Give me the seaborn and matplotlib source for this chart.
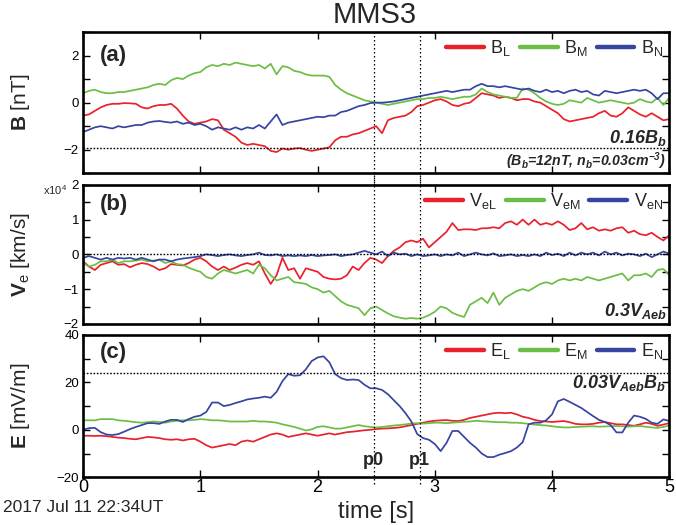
import numpy as np
import pandas as pd
import matplotlib
matplotlib.use("Agg")
import matplotlib.pyplot as plt
from matplotlib.lines import Line2D
from matplotlib.ticker import MultipleLocator
import seaborn as sns

# sample times [s] after 2017 Jul 11 22:34 UT (0.05 s spacing)
time_s = np.round(np.arange(101) * 0.05, 2)

# magnetic field in LMN coordinates [nT]
B_L = [-0.55, -0.5, -0.35, -0.2, -0.1, -0.05, -0.05, -0.02, -0.03, -0.05,
       -0.2, -0.25, -0.15, -0.1, -0.1, -0.05, -0.25, -0.55, -0.8, -0.9,
       -0.85, -0.8, -0.7, -0.75, -1.15, -1.3, -1.45, -1.7, -1.8, -1.75,
       -1.8, -1.85, -2.05, -2.1, -1.95, -2.0, -1.95, -1.93, -2.0, -2.05,
       -2.0, -1.95, -1.9, -1.6, -1.45, -1.45, -1.35, -1.3, -1.2, -1.1,
       -1.0, -1.3, -0.75, -0.65, -0.6, -0.55, -0.4, -0.15, -0.1, 0.0,
       0.1, 0.15, 0.05, -0.1, -0.15, -0.05, 0.0, 0.2, 0.4, 0.35,
       0.3, 0.2, 0.25, 0.2, 0.1, 0.15, 0.15, 0.05, 0.0, -0.15,
       -0.3, -0.45, -0.7, -0.8, -0.75, -0.7, -0.65, -0.6, -0.45, -0.35,
       -0.55, -0.6, -0.45, -0.2, -0.35, -0.5, -0.6, -0.45, -0.6, -0.75,
       -0.7]
B_M = [0.4, 0.5, 0.55, 0.45, 0.4, 0.4, 0.45, 0.45, 0.5, 0.55,
       0.6, 0.65, 0.75, 0.8, 0.75, 0.95, 1.05, 1.0, 1.15, 1.25,
       1.3, 1.5, 1.6, 1.55, 1.65, 1.6, 1.7, 1.65, 1.6, 1.55,
       1.6, 1.45, 1.65, 1.2, 1.55, 1.5, 1.35, 1.3, 1.2, 1.15,
       1.15, 1.15, 1.1, 0.75, 0.55, 0.4, 0.3, 0.2, 0.1, 0.05,
       0.0, -0.05, -0.1, -0.05, 0.0, 0.05, 0.1, 0.15, 0.15, 0.2,
       0.2, 0.25, 0.2, 0.15, 0.2, 0.25, 0.25, 0.35, 0.6, 0.45,
       0.35, 0.3, 0.25, 0.2, 0.2, 0.6, 0.55, 0.4, 0.2, 0.05,
       -0.05, -0.1, -0.05, 0.1, 0.05, 0.0, 0.2, 0.1, 0.0, 0.05,
       0.1, 0.05, 0.0, -0.05, 0.0, 0.15, 0.05, 0.0, 0.2, -0.1,
       0.2]
B_N = [-1.25, -1.15, -1.05, -1.0, -1.05, -1.1, -1.0, -1.05, -1.0, -0.95,
       -0.95, -0.85, -0.8, -0.78, -0.82, -0.85, -0.8, -0.9, -0.85, -0.95,
       -0.9, -1.0, -1.15, -1.05, -1.1, -1.15, -1.05, -1.15, -1.05, -1.1,
       -0.95, -1.1, -0.8, -0.5, -0.95, -0.85, -0.8, -0.75, -0.7, -0.65,
       -0.6, -0.62, -0.55, -0.55, -0.4, -0.35, -0.25, -0.15, -0.1, -0.02,
       0.0, 0.0, 0.02, 0.05, 0.1, 0.15, 0.2, 0.25, 0.3, 0.35,
       0.4, 0.45, 0.5, 0.45, 0.5, 0.55, 0.55, 0.7, 0.8, 0.7,
       0.7, 0.65, 0.7, 0.65, 0.6, 0.55, 0.6, 0.5, 0.45, 0.55,
       0.45, 0.5, 0.4, 0.5, 0.55, 0.45, 0.5, 0.35, 0.3, 0.5,
       0.45, 0.4, 0.45, 0.5, 0.55, 0.5, 0.55, 0.4, 0.15, 0.4,
       0.4]

# electron velocity [x1e4 km/s]
Ve_L = [-0.2, -0.35, -0.45, -0.3, -0.25, -0.2, -0.3, -0.28, -0.37, -0.3,
        -0.25, -0.28, -0.35, -0.45, -0.4, -0.28, -0.3, -0.32, -0.25, -0.15,
        -0.1, -0.2, -0.35, -0.45, -0.35, -0.45, -0.38, -0.3, -0.25, -0.3,
        -0.2, -0.55, -0.85, -0.6, -0.1, -0.45, -0.4, -0.7, -0.4, -0.45,
        -0.5, -0.65, -0.7, -0.72, -0.7, -0.6, -0.35, -0.45, -0.25, -0.1,
        -0.15, -0.25, -0.05, 0.1, 0.2, 0.35, 0.4, 0.35, 0.45, 0.2,
        0.35, 0.5, 0.65, 0.9, 0.7, 0.72, 0.72, 0.7, 0.75, 0.75,
        0.78, 0.75, 0.9, 0.95, 0.85, 1.0, 0.85, 1.0, 0.85, 0.9,
        0.85, 0.95, 0.85, 0.7, 0.75, 0.9, 0.72, 0.78, 0.68, 0.72,
        0.68, 0.75, 0.78, 0.62, 0.68, 0.58, 0.55, 0.62, 0.5, 0.4,
        0.55]
Ve_M = [-0.25, -0.35, -0.3, -0.2, -0.2, -0.15, -0.25, -0.2, -0.2, -0.18,
        -0.15, -0.2, -0.18, -0.15, -0.25, -0.2, -0.28, -0.3, -0.38, -0.45,
        -0.5, -0.65, -0.7, -0.55, -0.45, -0.5, -0.55, -0.5, -0.45, -0.55,
        -0.3, -0.4, -0.6, -0.75, -0.7, -0.65, -0.8, -0.82, -0.85, -0.95,
        -1.0, -1.1, -1.05, -1.2, -1.35, -1.45, -1.5, -1.55, -1.75, -1.55,
        -1.5, -1.6, -1.7, -1.78, -1.82, -1.85, -1.83, -1.85, -1.82, -1.75,
        -1.65, -1.5, -1.55, -1.68, -1.75, -1.8, -1.45, -1.35, -1.25, -1.4,
        -1.1, -1.45, -1.25, -1.15, -1.05, -1.0, -1.05, -0.95, -0.85, -0.8,
        -0.85, -0.75, -0.7, -0.75, -0.7, -0.75, -0.65, -0.7, -0.75, -0.7,
        -0.65, -0.6, -0.55, -0.75, -0.6, -0.6, -0.55, -0.65, -0.45, -0.42,
        -0.6]
Ve_N = [-0.1, -0.05, -0.1, -0.15, -0.1, -0.15, -0.1, -0.12, -0.1, -0.15,
        -0.1, -0.15, -0.2, -0.15, -0.15, -0.2, -0.15, -0.12, -0.1, -0.08,
        -0.05, 0.0, -0.02, -0.05, -0.02, 0.0, -0.03, -0.05, -0.02, 0.0,
        0.05, -0.02, -0.03, 0.0, -0.05, -0.03, -0.05, -0.03, -0.05, -0.02,
        -0.05, -0.03, -0.02, 0.0, -0.05, -0.02, 0.0, 0.05, 0.1, 0.05,
        0.0, 0.08, -0.05, 0.05, 0.0, 0.02, -0.05, 0.0, -0.05, -0.03,
        0.0, -0.05, 0.0, -0.03, 0.05, -0.05, 0.0, 0.05, 0.0, -0.03,
        0.03, -0.05, -0.03, 0.0, -0.05, -0.02, -0.05, 0.0, -0.05, 0.05,
        -0.02, 0.02, -0.05, 0.05, -0.03, 0.05, 0.0, 0.05, -0.03, 0.08,
        0.0, 0.05, -0.03, 0.02, 0.0, -0.05, 0.02, -0.08, 0.0, 0.08,
        0.02]

# electric field [mV/m]
E_L = [-2.5, -2.5, -2.6, -2.5, -2.7, -3.0, -3.3, -3.5, -3.8, -4.0,
       -3.5, -3.0, -3.2, -3.5, -4.0, -4.2, -4.0, -4.5, -4.0, -3.8,
       -5.0, -6.5, -7.5, -7.0, -6.5, -6.0, -6.5, -5.0, -4.5, -5.0,
       -4.0, -3.0, -2.0, -1.5, -2.0, -3.0, -2.5, -2.0, -1.5, -2.0,
       -2.5, -2.0, -1.5, -2.0, -1.5, -1.0, -0.8, -0.5, -0.2, 0.0,
       0.3, 0.5, 0.6, 0.8, 1.0, 1.5, 2.0, 2.5, 3.0, 3.5,
       3.8, 4.0, 4.1, 3.8, 3.7, 4.2, 5.0, 5.5, 6.0, 6.5,
       7.0, 7.2, 7.0, 7.2, 6.5, 5.5, 5.0, 4.2, 3.7, 3.5,
       3.3, 3.5, 3.7, 3.2, 2.5, 2.3, 2.3, 2.5, 3.0, 3.3,
       2.8, 2.3, 2.3, 2.0, 1.7, 2.3, 3.0, 2.5, 1.7, 2.2,
       2.8]
E_M = [4.0, 4.0, 4.0, 4.5, 4.5, 4.5, 4.0, 3.8, 3.5, 3.2,
       3.0, 3.2, 3.5, 3.3, 3.0, 3.5, 3.8, 4.0, 4.0, 4.2,
       4.5, 4.3, 4.0, 4.0, 3.8, 3.5, 3.5, 3.5, 3.5, 3.8,
       3.5, 3.5, 3.3, 3.0, 2.3, 1.8, 1.2, 0.5, -0.3, 0.2,
       1.2, 1.5, 1.0, 0.5, 0.5, 1.0, 1.5, 2.0, 1.5, 1.2,
       1.0, 1.2, 1.5, 1.8, 2.0, 2.3, 2.6, 2.8, 2.6, 2.8,
       3.0, 3.0, 2.8, 3.0, 3.2, 3.4, 3.5, 3.8, 3.6, 3.5,
       3.3, 3.2, 3.2, 3.0, 3.0, 2.8, 2.5, 2.2, 2.0, 1.8,
       1.5, 1.2, 1.0, 1.0, 1.2, 1.3, 1.4, 1.5, 1.3, 1.4,
       1.5, 1.6, 1.5, 1.3, 1.5, 1.6, 1.3, 1.0, 0.8, 1.2,
       1.8]
E_N = [0.0, 0.7, 0.8, -1.0, -2.0, -2.2, -1.8, -0.8, 0.3, 1.2,
       2.0, 2.8, 2.8, 2.5, 3.5, 4.2, 4.2, 3.3, 4.5, 5.5,
       6.0, 7.5, 11.5, 11.5, 10.0, 10.5, 11.3, 12.0, 12.8, 13.2,
       13.5, 14.0, 13.5, 16.0, 20.5, 23.5, 22.8, 23.0, 25.5, 29.0,
       30.5, 31.0, 28.5, 23.5, 21.8, 21.0, 21.2, 21.0, 19.0, 17.5,
       17.5, 16.8, 15.0, 12.5, 10.0, 7.0, 3.5, -1.8, -3.5, -4.2,
       -6.0, -9.0, -5.5, -0.5, -0.5, -3.0, -5.5, -7.5, -10.0, -11.5,
       -11.5, -10.5, -9.8, -9.0, -7.5, -5.2, 2.3, 3.0, 3.0, 4.0,
       6.5, 12.0, 13.0, 11.8, 10.5, 9.2, 7.5, 5.8, 4.2, 3.3,
       2.0, -1.1, -1.1, 3.0, 6.0, 5.5, 4.6, 3.0, 2.5, 4.4,
       3.7]

# normalisation quantities
B_b_nT = 12.0
V_Aeb_1e4kms = 6.67
B_ref = -0.16 * B_b_nT
V_ref = -0.3 * V_Aeb_1e4kms
E_ref = 0.03 * (V_Aeb_1e4kms * 1e7) * (B_b_nT * 1e-9) * 1e3

# marked times
p_times = [2.48, 2.87]
p_names = ["p0", "p1"]

sns.set_theme(style="ticks")
plt.rcParams["font.family"] = ["Liberation Sans", "DejaVu Sans"]
plt.rcParams["mathtext.default"] = "regular"
plt.rcParams["mathtext.fontset"] = "custom"
plt.rcParams["mathtext.bf"] = "Liberation Sans:bold"
plt.rcParams["mathtext.rm"] = "Liberation Sans"
plt.rcParams["mathtext.it"] = "Liberation Sans:italic"

COLORS = ["#e8212b", "#6cbd45", "#3545a0"]

fig = plt.figure(figsize=(6.76, 5.25), dpi=100)
left, width = 0.123, 0.867
ax_a = fig.add_axes([left, 0.670, width, 0.269])
ax_b = fig.add_axes([left, 0.383, width, 0.265])
ax_c = fig.add_axes([left, 0.091, width, 0.271])

panels = [
    (ax_a, [B_L, B_M, B_N], ["B$_L$", "B$_M$", "B$_N$"]),
    (ax_b, [Ve_L, Ve_M, Ve_N], ["V$_{eL}$", "V$_{eM}$", "V$_{eN}$"]),
    (ax_c, [E_L, E_M, E_N], ["E$_L$", "E$_M$", "E$_N$"]),
]
vline_span = {ax_a: (-0.08, 1.0), ax_b: (-0.08, 1.08), ax_c: (-0.05, 1.08)}

for ax, series, labels in panels:
    frame = pd.DataFrame({
        "time": np.tile(time_s, 3),
        "value": np.concatenate([np.asarray(s, float) for s in series]),
        "comp": np.repeat(labels, len(time_s)),
    })
    sns.lineplot(data=frame, x="time", y="value", hue="comp", hue_order=labels,
                 palette=COLORS, linewidth=1.25, legend=False, ax=ax, sort=False)
    handles = [Line2D([], [], color=c, lw=3.2) for c in COLORS]
    ax.legend(handles, labels, loc="upper right", ncol=3, frameon=False,
              fontsize=13, handlelength=2.1, handletextpad=0.35,
              columnspacing=0.5, borderaxespad=0.15, borderpad=0.2)
    ax.set_xlim(0, 5)
    ax.set_xlabel("")
    ax.xaxis.set_major_locator(MultipleLocator(1))
    ax.tick_params(which="both", direction="in", top=True, right=True,
                   length=5, width=1.0, colors="black")
    ax.tick_params(axis="y", labelsize=9.5, pad=3)
    for sp in ax.spines.values():
        sp.set_linewidth(1.9)
        sp.set_color("black")
    lo, hi = vline_span[ax]
    for pt in p_times:
        ax.axvline(pt, color="black", lw=0.9, ls=(0, (1.2, 2.0)),
                   ymin=lo, ymax=hi, clip_on=False)

dot = dict(color="black", lw=1.0, ls=(0, (1.2, 1.2)))

# panel (a)
ax_a.set_ylim(-3, 3)
ax_a.yaxis.set_major_locator(MultipleLocator(2))
ax_a.yaxis.set_minor_locator(MultipleLocator(1))
ax_a.axhline(B_ref, **dot)
ax_a.tick_params(axis="x", labelbottom=False)
ax_a.set_ylabel(r"$\mathbf{B}$ [nT]", fontsize=15)
ax_a.text(0.995, 0.25, "0.16B$_b$", transform=ax_a.transAxes, ha="right",
          va="center", fontsize=13, fontweight="bold", style="italic")
ax_a.text(0.995, 0.085, "(B$_b$=12nT, n$_b$=0.03cm$^{-3}$)", transform=ax_a.transAxes,
          ha="right", va="center", fontsize=10.2, fontweight="bold", style="italic")
ax_a.text(0.028, 0.835, "(a)", transform=ax_a.transAxes, ha="left", va="center",
          fontsize=16, fontweight="bold")

# panel (b)
ax_b.set_ylim(-2, 2)
ax_b.yaxis.set_major_locator(MultipleLocator(1))
ax_b.yaxis.set_minor_locator(MultipleLocator(0.5))
ax_b.axhline(0, **dot)
ax_b.axhline(V_ref, **dot)
ax_b.tick_params(axis="x", labelbottom=False)
ax_b.set_ylabel(r"$\mathbf{V}_e$ [km/s]", fontsize=15)
ax_b.text(0.995, 0.09, "0.3V$_{Aeb}$", transform=ax_b.transAxes, ha="right",
          va="center", fontsize=13, fontweight="bold", style="italic")
ax_b.text(0.028, 0.855, "(b)", transform=ax_b.transAxes, ha="left", va="center",
          fontsize=16, fontweight="bold")
fig.text(0.063, 0.637, "x10$^4$", fontsize=8, ha="left", va="center")

# panel (c)
ax_c.set_ylim(-20, 40)
ax_c.yaxis.set_major_locator(MultipleLocator(20))
ax_c.yaxis.set_minor_locator(MultipleLocator(10))
ax_c.axhline(E_ref, **dot)
ax_c.set_ylabel(r"$\mathbf{E}$ [mV/m]", fontsize=15)
ax_c.text(0.995, 0.66, "0.03V$_{Aeb}$B$_b$", transform=ax_c.transAxes, ha="right",
          va="center", fontsize=13, fontweight="bold", style="italic")
ax_c.text(0.028, 0.88, "(c)", transform=ax_c.transAxes, ha="left", va="center",
          fontsize=16, fontweight="bold")
for pt, name in zip(p_times, p_names):
    ax_c.text(pt, -13, name, ha="center", va="center", fontsize=13,
              fontweight="bold")
ax_c.tick_params(axis="x", labelsize=13, pad=1.5)
ax_c.set_xlabel("time [s]", fontsize=17)
ax_c.xaxis.set_label_coords(0.5, -0.17)
ax_c.xaxis.label.set_va("top")

for ax in (ax_a, ax_b, ax_c):
    ax.yaxis.set_label_coords(-0.088, 0.5)

fig.text(0.004, 0.024, "2017 Jul 11 22:34UT", fontsize=12.5, ha="left",
         va="baseline")
fig.text(0.555, 0.972, "MMS3", fontsize=21, ha="center", va="center")

fig.savefig("out.png", dpi=100)
